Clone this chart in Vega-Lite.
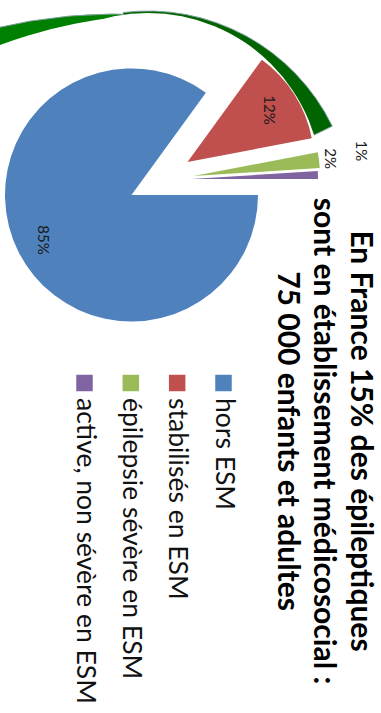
{
  "$schema": "https://vega.github.io/schema/vega-lite/v6.json",
  "width": 381,
  "height": 713,
  "padding": 0,
  "autosize": {"type": "none"},
  "background": "white",
  "config": {"view": {"stroke": null}},
  "data": {"values": [
    {"cat": "hors ESM", "v": 0.85, "o": 1},
    {"cat": "stabilisés en ESM", "v": 0.12, "o": 2},
    {"cat": "épilepsie sévère en ESM", "v": 0.02, "o": 3},
    {"cat": "active, non sévère en ESM", "v": 0.01, "o": 4}
  ]},
  "layer": [
    {"data": {"values": [{}]}, "mark": {"type": "arc", "x": 116.2, "y": 539, "radius": 525, "theta": -0.244, "theta2": 0.07, "fill": "#008000", "stroke": "#7f9f9f", "strokeWidth": 1}, "encoding": {}},
    {"data": {"values": [{}]}, "mark": {"type": "arc", "x": 170.25, "y": 503.5, "radius": 489.1, "theta": 0, "theta2": 6.2832, "fill": "white"}, "encoding": {}},
    {"data": {"values": [{}]}, "mark": {"type": "arc", "x": 148, "y": 216, "radius": 205, "theta": -0.122, "theta2": 1.117, "fill": "#006400", "stroke": "#7f9f9f", "strokeWidth": 1}, "encoding": {}},
    {"data": {"values": [{}]}, "mark": {"type": "arc", "x": 148, "y": 187.1, "radius": 174.1, "theta": 0, "theta2": 6.2832, "fill": "white"}, "encoding": {}},
    {
      "mark": {"type": "arc", "x": 131.5, "y": 195, "radius": 126.5},
      "encoding": {
        "theta": {"field": "v", "type": "quantitative", "stack": true, "scale": {"domain": [0, 1], "range": [1.5708, 7.854]}},
        "order": {"field": "o", "type": "quantitative"},
        "color": {"field": "cat", "type": "nominal", "scale": {"domain": ["hors ESM", "stabilisés en ESM", "épilepsie sévère en ESM", "active, non sévère en ESM"], "range": ["#4F81BD", "#C0504D", "#9BBB59", "#8064A2"]}, "legend": null},
        "opacity": {"condition": {"test": "datum.cat === 'hors ESM'", "value": 1}, "value": 0}
      }
    },
    {
      "mark": {"type": "arc", "x": 187.5, "y": 162, "radius": 126.5},
      "encoding": {
        "theta": {"field": "v", "type": "quantitative", "stack": true},
        "order": {"field": "o", "type": "quantitative"},
        "color": {"field": "cat", "type": "nominal", "legend": null},
        "opacity": {"condition": {"test": "datum.cat === 'stabilisés en ESM'", "value": 1}, "value": 0}
      }
    },
    {
      "mark": {"type": "arc", "x": 193.5, "y": 176, "radius": 126.5},
      "encoding": {
        "theta": {"field": "v", "type": "quantitative", "stack": true},
        "order": {"field": "o", "type": "quantitative"},
        "color": {"field": "cat", "type": "nominal", "legend": null},
        "opacity": {"condition": {"test": "datum.cat === 'épilepsie sévère en ESM'", "value": 1}, "value": 0}
      }
    },
    {
      "mark": {"type": "arc", "x": 191.5, "y": 179, "radius": 126.5},
      "encoding": {
        "theta": {"field": "v", "type": "quantitative", "stack": true},
        "order": {"field": "o", "type": "quantitative"},
        "color": {"field": "cat", "type": "nominal", "legend": null},
        "opacity": {"condition": {"test": "datum.cat === 'active, non sévère en ESM'", "value": 1}, "value": 0}
      }
    },
    {
      "mark": {"type": "text", "x": 131.5, "y": 195, "radius": 99, "angle": 90, "font": "Lato", "fontSize": 15, "color": "#1a1a1a", "align": "center", "baseline": "middle"},
      "encoding": {
        "theta": {"field": "v", "type": "quantitative", "stack": true},
        "order": {"field": "o", "type": "quantitative"},
        "text": {"field": "v", "type": "quantitative", "format": ".0%"},
        "opacity": {"condition": {"test": "datum.cat === 'hors ESM'", "value": 1}, "value": 0}
      }
    },
    {
      "mark": {"type": "text", "x": 187.5, "y": 162, "radius": 97, "angle": 90, "font": "Lato", "fontSize": 15, "color": "#1a1a1a", "align": "center", "baseline": "middle"},
      "encoding": {
        "theta": {"field": "v", "type": "quantitative", "stack": true},
        "order": {"field": "o", "type": "quantitative"},
        "text": {"field": "v", "type": "quantitative", "format": ".0%"},
        "opacity": {"condition": {"test": "datum.cat === 'stabilisés en ESM'", "value": 1}, "value": 0}
      }
    },
    {
      "mark": {"type": "text", "x": 193.5, "y": 176, "radius": 138, "angle": 90, "font": "Lato", "fontSize": 15, "color": "#1a1a1a", "align": "center", "baseline": "middle"},
      "encoding": {
        "theta": {"field": "v", "type": "quantitative", "stack": true},
        "order": {"field": "o", "type": "quantitative"},
        "text": {"field": "v", "type": "quantitative", "format": ".0%"},
        "opacity": {"condition": {"test": "datum.cat === 'épilepsie sévère en ESM'", "value": 1}, "value": 0}
      }
    },
    {
      "mark": {"type": "text", "x": 191.5, "y": 179, "radius": 172, "thetaOffset": -0.133, "angle": 90, "font": "Lato", "fontSize": 15, "color": "#1a1a1a", "align": "center", "baseline": "middle"},
      "encoding": {
        "theta": {"field": "v", "type": "quantitative", "stack": true},
        "order": {"field": "o", "type": "quantitative"},
        "text": {"field": "v", "type": "quantitative", "format": ".0%"},
        "opacity": {"condition": {"test": "datum.cat === 'active, non sévère en ESM'", "value": 1}, "value": 0}
      }
    },
    {"data": {"values": [{}]}, "mark": {"type": "rule", "x": 317, "x2": 360, "y": 174.5, "y2": 174.5, "color": "#333333", "strokeWidth": 1}, "encoding": {}},
    {"data": {"values": [{}]}, "mark": {"type": "rule", "x": 360, "x2": 360, "y": 165, "y2": 174.5, "color": "#333333", "strokeWidth": 1}, "encoding": {}},
    {
      "mark": {"type": "square", "y": 383, "size": 272, "opacity": 1},
      "encoding": {
        "x": {"field": "cat", "type": "nominal", "sort": ["hors ESM", "stabilisés en ESM", "épilepsie sévère en ESM", "active, non sévère en ESM"], "scale": {"type": "point", "range": [223.5, 84.5], "padding": 0}, "axis": null},
        "color": {"field": "cat", "type": "nominal", "legend": null}
      }
    },
    {
      "mark": {"type": "text", "y": 398, "angle": 90, "align": "left", "baseline": "middle", "font": "Lato", "fontSize": 26.5, "color": "#111111"},
      "encoding": {
        "x": {"field": "cat", "type": "nominal", "sort": ["hors ESM", "stabilisés en ESM", "épilepsie sévère en ESM", "active, non sévère en ESM"], "axis": null},
        "text": {"field": "cat", "type": "nominal"}
      }
    },
    {"data": {"values": [{}]}, "mark": {"type": "text", "text": ["En France 15% des épileptiques", "sont en établissement médicosocial :", "75 000 enfants et adultes"], "x": 350.5, "y": 441, "angle": 90, "align": "center", "baseline": "alphabetic", "lineHeight": 36.5, "font": "Lato", "fontWeight": "bold", "fontSize": 30, "color": "#000000"}, "encoding": {}},
    {"data": {"values": [{}]}, "mark": {"type": "rule", "x": 0, "x2": 381, "y": 8, "y2": 8, "color": "#8c8c8c", "strokeWidth": 1.5}, "encoding": {}}
  ]
}
